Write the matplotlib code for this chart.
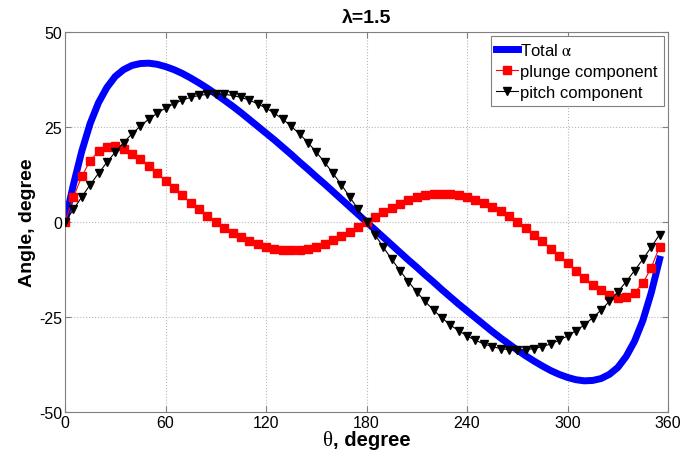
import matplotlib
matplotlib.use('Agg')
import matplotlib.pyplot as plt
from matplotlib.offsetbox import TextArea, HPacker, AnnotationBbox

# angle of attack components, lambda = 1.5 (read every 5 degrees)
theta = list(range(0, 360, 5))

total_alpha = [0.0, 9.8, 18.6, 25.9, 31.4, 35.4, 38.3, 40.1, 41.2, 41.7,
               41.8, 41.5, 40.9, 40.1, 39.1, 37.9, 36.6, 35.2, 33.7, 32.1,
               30.5, 28.8, 27.0, 25.2, 23.4, 21.6, 19.7, 17.8, 15.8, 13.9,
               11.9, 10.0, 8.0, 6.0, 4.0, 2.0, 0.0, -2.0, -4.0, -6.0,
               -8.0, -10.0, -11.9, -13.9, -15.8, -17.8, -19.7, -21.6, -23.4, -25.2,
               -27.0, -28.8, -30.5, -32.1, -33.7, -35.2, -36.6, -37.9, -39.1, -40.1,
               -40.9, -41.5, -41.8, -41.7, -41.2, -40.1, -38.3, -35.4, -31.4, -25.9,
               -18.6, -9.8]

plunge = [0.0, 6.5, 12.0, 16.1, 18.6, 19.7, 19.9, 19.2, 18.0, 16.5,
          14.7, 12.9, 10.9, 9.0, 7.0, 5.1, 3.3, 1.6, 0.0, -1.5,
          -2.8, -4.0, -5.1, -5.9, -6.6, -7.0, -7.4, -7.4, -7.4, -7.0,
          -6.5, -5.7, -4.8, -3.8, -2.6, -1.3, 0.0, 1.3, 2.6, 3.8,
          4.8, 5.7, 6.5, 7.0, 7.4, 7.4, 7.4, 7.0, 6.6, 5.9,
          5.1, 4.0, 2.8, 1.5, 0.0, -1.6, -3.3, -5.1, -7.0, -9.0,
          -10.9, -12.9, -14.7, -16.5, -18.0, -19.2, -19.9, -19.7, -18.6, -16.1,
          -12.0, -6.5]

pitch = [0.0, 3.3, 6.6, 9.8, 12.8, 15.7, 18.4, 20.9, 23.2, 25.2,
         27.1, 28.6, 30.0, 31.1, 32.1, 32.8, 33.3, 33.6, 33.7, 33.6,
         33.3, 32.8, 32.1, 31.1, 30.0, 28.6, 27.1, 25.2, 23.2, 20.9,
         18.4, 15.7, 12.8, 9.8, 6.6, 3.3, 0.0, -3.3, -6.6, -9.8,
         -12.8, -15.7, -18.4, -20.9, -23.2, -25.2, -27.1, -28.6, -30.0, -31.1,
         -32.1, -32.8, -33.3, -33.6, -33.7, -33.6, -33.3, -32.8, -32.1, -31.1,
         -30.0, -28.6, -27.1, -25.2, -23.2, -20.9, -18.4, -15.7, -12.8, -9.8,
         -6.6, -3.3]

x_ticks = [0, 60, 120, 180, 240, 300, 360]
y_ticks = [-50, -25, 0, 25, 50]

plt.rcParams['font.family'] = ['Liberation Sans', 'DejaVu Sans']
plt.rcParams['axes.unicode_minus'] = False
plt.rcParams['mathtext.fontset'] = 'stix'

fig = plt.figure(figsize=(6.83, 4.64), dpi=100)
ax = fig.add_axes([65/683, 1 - 413/464, 603/683, 380/464])

ax.plot(theta, total_alpha, color='#0000ff', lw=5, label=r'Total $\mathrm{\alpha}$', zorder=2)
ax.plot(theta, plunge, color='#ff0000', lw=0.8, marker='s', ms=5.5, mec='#ff0000',
        label='plunge component', zorder=3)
ax.plot(theta, pitch, color='black', lw=0.8, marker='v', ms=6, label='pitch component', zorder=4)

ax.set_xlim(0, 360)
ax.set_ylim(-50, 50)
ax.set_xticks(x_ticks)
ax.set_yticks(y_ticks)
ax.tick_params(direction='in', top=True, right=True, length=4, labelsize=11.5,
               color='#808080', pad=2)
ax.grid(True, linestyle=':', color='#b8b8b8', lw=0.8)
for s in ax.spines.values():
    s.set_color('#808080')

ax.set_title('λ=1.5', fontsize=14, fontweight='bold', pad=7)
ax.set_ylabel('Angle, degree', fontsize=14, fontweight='bold', labelpad=2)

# x label: serif theta + bold sans text
lbl = HPacker(children=[TextArea('θ', textprops=dict(family='Liberation Serif', size=15)),
                        TextArea(', degree', textprops=dict(size=14.5, weight='bold'))],
              pad=0, sep=0, align='baseline')
ab = AnnotationBbox(lbl, (0.5, -0.075), xycoords='axes fraction', frameon=False,
                    box_alignment=(0.5, 0.5))
ax.add_artist(ab)

leg = ax.legend(loc='upper right', fontsize=12, numpoints=1, handlelength=1.3,
                handletextpad=0.15, borderpad=0.35, labelspacing=0.35,
                borderaxespad=0.25, fancybox=False, framealpha=1, edgecolor='#808080')
leg.get_frame().set_linewidth(0.8)

fig.savefig('out.png', dpi=100)
